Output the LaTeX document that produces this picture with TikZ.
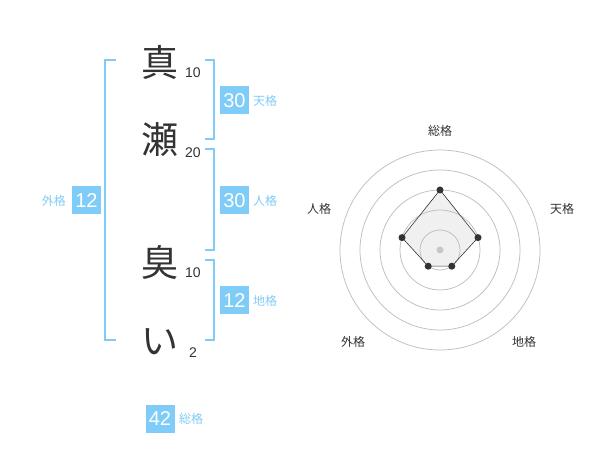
\documentclass[tikz,border=0pt]{standalone}
\usepackage{fontspec}
\setmainfont{Liberation Sans}
\newfontfamily\jp{Noto Sans CJK JP}
\definecolor{lb}{HTML}{80CCF8}
\definecolor{ink}{HTML}{333333}
\tikzset{
  kanji/.style={font=\jp\fontsize{37}{37}\selectfont, text=ink, inner sep=0pt},
  strokes/.style={font=\fontsize{14}{14}\selectfont, text=ink, inner sep=0pt},
  numbox/.style={fill=lb, text=white, font=\fontsize{20}{20}\selectfont, minimum width=29pt, minimum height=28pt, inner sep=0pt},
  kaku/.style={font=\jp\fontsize{12}{12}\selectfont, text=lb, inner sep=0pt},
  brk/.style={draw=lb, line width=1.6pt},
  ring/.style={draw=black!25, line width=0.75pt},
  axlabel/.style={font=\jp\fontsize{12}{12}\selectfont, text=ink, inner sep=0pt},
  dot/.style={circle, fill=ink, inner sep=0pt, minimum size=7pt},
}
\begin{document}
\begin{tikzpicture}[x=1pt,y=-1pt]
\useasboundingbox[fill=white] (0,0) rectangle (600,470);
% kanji
\node[kanji] (k1) at (160,62) {真};
\node[kanji] (k2) at (160,140) {瀬};
\node[kanji] (k3) at (160,262) {臭};
\node[kanji] (k4) at (160,342) {い};
\node[strokes] (s1) at (193,73) {10};
\node[strokes] (s2) at (193,153) {20};
\node[strokes] (s3) at (193,273) {10};
\node[strokes] (s4) at (193,353) {2};
% brackets
\coordinate (la) at (116,60); \coordinate (lb) at (116,340);
\draw[brk] (la) -- (105,60) -- (105,340) -- (lb);
\coordinate (r1a) at (205,60); \coordinate (r1b) at (205,139);
\draw[brk] (r1a) -- (214,60) -- (214,139) -- (r1b);
\coordinate (r2a) at (205,149); \coordinate (r2b) at (205,250);
\draw[brk] (r2a) -- (214,149) -- (214,250) -- (r2b);
\coordinate (r3a) at (205,260); \coordinate (r3b) at (205,340);
\draw[brk] (r3a) -- (214,260) -- (214,340) -- (r3b);
% boxes
\node[numbox] (b1) at (234.5,100.5) {30};
\node[kaku, anchor=west] (t1) at (253,101) {天格};
\node[numbox] (b2) at (234.5,200.5) {30};
\node[kaku, anchor=west] (t2) at (253,201) {人格};
\node[numbox] (b3) at (234.5,300.5) {12};
\node[kaku, anchor=west] (t3) at (253,301) {地格};
\node[numbox] (b4) at (86.5,200.5) {12};
\node[kaku, anchor=east] (t4) at (66,201) {外格};
\node[numbox] (b5) at (160,418.5) {42};
\node[kaku, anchor=west] (t5) at (179,419) {総格};
% radar
\coordinate (c) at (440,250);
\coordinate (q1) at (440,190);
\coordinate (q2) at (478,237.6);
\coordinate (q3) at (451.8,266.2);
\coordinate (q4) at (428.2,266.2);
\coordinate (q5) at (402,237.6);
\fill[black!6] (q1) -- (q2) -- (q3) -- (q4) -- (q5) -- cycle;
\draw[ring] (c) circle[radius=20pt];
\draw[ring] (c) circle[radius=40pt];
\draw[ring] (c) circle[radius=60pt];
\draw[ring] (c) circle[radius=80pt];
\draw[ring] (c) circle[radius=100pt];
\fill[black!22] (c) circle[radius=3.5pt];
\draw[ink, line width=0.6pt] (q1) -- (q2) -- (q3) -- (q4) -- (q5) -- cycle;
\foreach \q in {q1,q2,q3,q4,q5} \node[dot] at (\q) {};
\node[axlabel] (a1) at (440,131) {総格};
\node[axlabel] (a2) at (562,209) {天格};
\node[axlabel] (a3) at (524,342) {地格};
\node[axlabel] (a4) at (353,342) {外格};
\node[axlabel] (a5) at (319,209) {人格};
\end{tikzpicture}
\end{document}
